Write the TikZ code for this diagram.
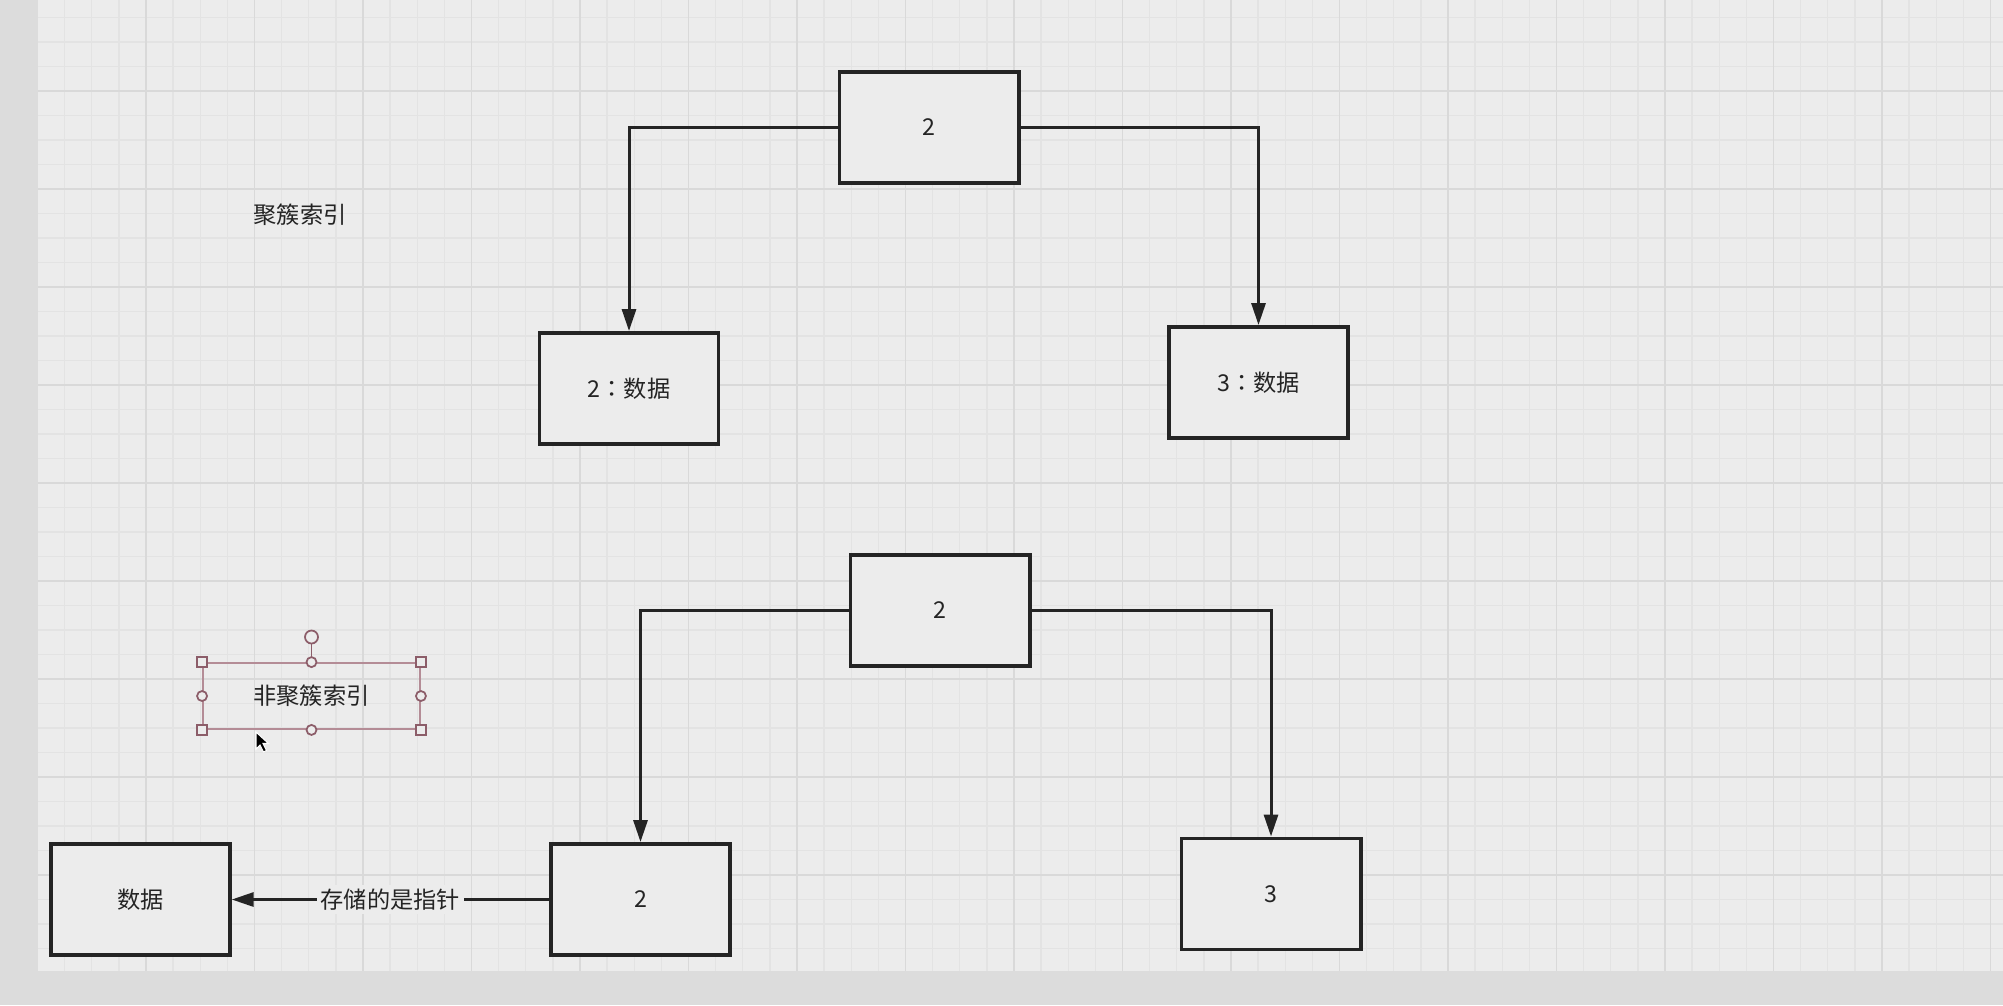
\documentclass[tikz,border=0pt]{standalone}
\usepackage{fontspec}
\setmainfont{Noto Sans CJK SC}
\newfontfamily\tcfont{Noto Sans CJK TC}
\usetikzlibrary{positioning,arrows.meta}
\definecolor{canvas}{HTML}{ECECEC}
\definecolor{minorline}{HTML}{E3E3E3}
\definecolor{majorline}{HTML}{D9D9D9}
\definecolor{frame}{HTML}{DCDCDC}
\definecolor{handle}{HTML}{8C5D69}
\definecolor{handleline}{HTML}{B48C96}
\definecolor{ink}{HTML}{242424}

\begin{document}
\begin{tikzpicture}[x=0.01cm, y=-0.01cm,
    font=\fontsize{6.6}{8}\selectfont,
    box/.style={draw=ink, line width=1.1pt, fill=canvas, text=ink,
        minimum width=1.79cm, minimum height=1.11cm, inner sep=0pt},
    link/.style={draw=ink, line width=0.85pt,
        -{Triangle[length=2.2mm,width=1.4mm]}},
    grip/.style={draw=handle, fill=canvas, line width=0.5pt,
        inner sep=0pt, minimum size=0.1cm},
    node distance=5cm]
    \useasboundingbox (0,0) rectangle (2003,1005);
    \fill[canvas] (0,0) rectangle (2003,1005);
    \foreach \i in {0,...,72}
        \draw[minorline, line width=0.4pt] ({37.5+27.125*\i},0) -- ({37.5+27.125*\i},971);
    \foreach \k in {1,...,39}
        \draw[minorline, line width=0.4pt] (37.5,{-7+24.5*\k}) -- (2003,{-7+24.5*\k});
    \foreach \i in {0,...,18}
        \draw[majorline, line width=0.5pt] ({37.5+108.5*\i},0) -- ({37.5+108.5*\i},971);
    \foreach \k in {1,...,9}
        \draw[majorline, line width=0.5pt] (37.5,{-7+98*\k}) -- (2003,{-7+98*\k});
    \fill[frame] (0,0) rectangle (37.5,1005);
    \fill[frame] (0,971) rectangle (2003,1005);

    \node[text=ink] (clu) at (300,215) {聚簇索引};
    \node[box] (r1) at (929,127.5) {2};
    \node[box] (a1) at (629,388.5) {2{\tcfont ：}数据};
    \node[box] (b1) at (1258.5,382.5) {3{\tcfont ：}数据};
    \draw[link] (r1.west) -| (a1.north);
    \draw[link] (r1.east) -| (b1.north);

    \node[box] (r2) at (940,610.5) {2};
    \node[box] (a2) at (640.5,899.5) {2};
    \node[box] (b2) at (1271,894) {3};
    \node[box] (d2) [left of=a2] {数据};
    \draw[link] (r2.west) -| (a2.north);
    \draw[link] (r2.east) -| (b2.north);
    \draw[link] (a2.west) -- node[fill=canvas, text=ink, inner sep=1pt] {存储的是指针} (d2.east);

    \node[draw=handleline, line width=0.5pt, text=ink, minimum width=2.17cm,
        minimum height=0.66cm] (nc) at (311.5,696) {非聚簇索引};
    \node[grip, circle, minimum size=0.13cm] (rot) at (311.5,637) {};
    \draw[handle, line width=0.5pt] (rot) -- (nc.north);
    \foreach \a in {north west, north east, south west, south east}
        \node[grip, rectangle] at (nc.\a) {};
    \foreach \a in {north, south, east, west}
        \node[grip, circle] at (nc.\a) {};
    \filldraw[fill=black, draw=white, line width=0.3pt] (256,732) -- (256,749) -- (260,745)
        -- (263.5,752) -- (266.5,750.5) -- (263,743.5) -- (268.5,743.5) -- cycle;
\end{tikzpicture}
\end{document}
